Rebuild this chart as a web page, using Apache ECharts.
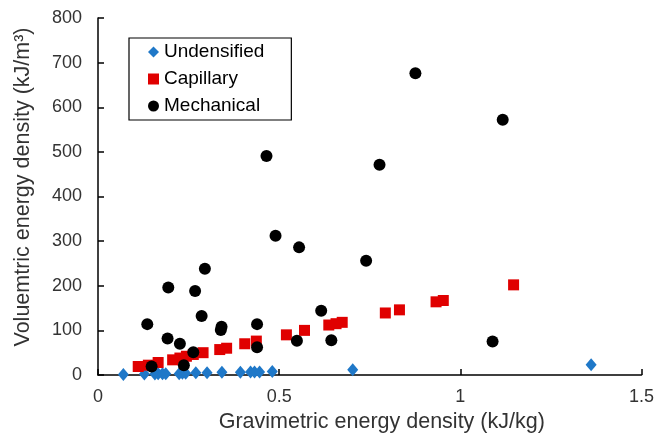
<!DOCTYPE html>
<html>
<head>
<meta charset="utf-8">
<script src="https://cdn.jsdelivr.net/npm/echarts@6/dist/echarts.min.js"></script>
<style>
  html, body { margin: 0; padding: 0; background: #fff; }
  #chart { width: 657px; height: 440px; }
</style>
</head>
<body>
<div id="chart"></div>
<script>
// undensified (blue diamonds)
const undensX = [0.070, 0.128, 0.157, 0.166, 0.178, 0.187, 0.224, 0.233, 0.242, 0.270, 0.301, 0.342, 0.393, 0.421, 0.432, 0.446, 0.481, 0.703, 1.361]
const undensY = [1, 2, 2, 3, 3, 3, 3, 4, 4, 5, 5, 6, 6, 7, 7, 7, 8, 12, 23]

// capillary (red squares)
const capX = [0.111, 0.139, 0.166, 0.206, 0.226, 0.244, 0.263, 0.290, 0.336, 0.355, 0.405, 0.437, 0.520, 0.570, 0.637, 0.657, 0.674, 0.793, 0.832, 0.933, 0.953, 1.147]
const capY = [19, 22, 28, 34, 38, 42, 46, 50, 57, 60, 70, 76, 90, 100, 112, 115, 118, 139, 146, 164, 167, 202]

// mechanical (black circles)
const mechX = [0.136, 0.148, 0.192, 0.194, 0.226, 0.237, 0.263, 0.268, 0.286, 0.295, 0.339, 0.341, 0.439, 0.439, 0.465, 0.490, 0.549, 0.555, 0.616, 0.644, 0.740, 0.777, 0.876, 1.089, 1.117]
const mechY = [114, 19, 82, 196, 70, 22, 51, 188, 132, 238, 101, 108, 114, 62, 491, 312, 77, 286, 144, 78, 256, 471, 676, 75, 572]

const pairs = (xs, ys) => xs.map((x, i) => [x, ys[i]])

const font = "Liberation Sans, Arial, sans-serif"
const txt = "#333"

let chart = echarts.init(document.getElementById("chart"))
let option = {
    animation: false,
    textStyle: { fontFamily: font },
    grid: { left: 98, right: 15, top: 18, bottom: 65 },
    legend: {
        orient: "vertical",
        left: 129,
        top: 38,
        padding: [4, 27, 4, 19],
        itemGap: 7,
        itemWidth: 11,
        itemHeight: 11,
        borderColor: "#000",
        borderWidth: 1.2,
        borderRadius: 0,
        backgroundColor: "#fff",
        textStyle: { fontFamily: font, fontSize: 19, lineHeight: 20, color: "#000" },
        data: ["Undensified", "Capillary", "Mechanical"]
    },
    xAxis: {
        type: "value",
        min: 0, max: 1.5, interval: 0.5,
        name: "Gravimetric energy density (kJ/kg)",
        nameLocation: "middle",
        nameGap: 36,
        nameTextStyle: { fontSize: 21.5, color: txt, fontFamily: font, padding: [0, 0, 0, 24] },
        axisLine: { lineStyle: { color: "#000", width: 1.5 } },
        axisTick: { inside: true, length: 6, lineStyle: { color: "#000", width: 1.5 } },
        axisLabel: { fontSize: 18, color: txt, margin: 13, fontFamily: font },
        splitLine: { show: false }
    },
    yAxis: {
        type: "value",
        min: 0, max: 800, interval: 100,
        name: "Voluemtric energy density (kJ/m\u00B3)",
        nameLocation: "middle",
        nameGap: 64,
        nameTextStyle: { fontSize: 21.5, color: txt, fontFamily: font, padding: [0, 0, 0, 19] },
        axisLine: { show: true, lineStyle: { color: "#000", width: 1.5 } },
        axisTick: { show: true, inside: true, length: 6, lineStyle: { color: "#000", width: 1.5 } },
        axisLabel: { fontSize: 18, color: txt, margin: 16, fontFamily: font },
        splitLine: { show: false }
    },
    series: [
        {
            name: "Undensified",
            type: "scatter",
            symbol: "diamond",
            symbolSize: [11, 13],
            itemStyle: { color: "#1F78C8", opacity: 1 },
            data: pairs(undensX, undensY)
        },
        {
            name: "Capillary",
            type: "scatter",
            symbol: "rect",
            symbolSize: 11,
            itemStyle: { color: "#E00000", opacity: 1 },
            data: pairs(capX, capY)
        },
        {
            name: "Mechanical",
            type: "scatter",
            symbol: "circle",
            symbolSize: 12,
            itemStyle: { color: "#000", opacity: 1 },
            data: pairs(mechX, mechY)
        }
    ]
}
chart.setOption(option)
</script>
</body>
</html>
